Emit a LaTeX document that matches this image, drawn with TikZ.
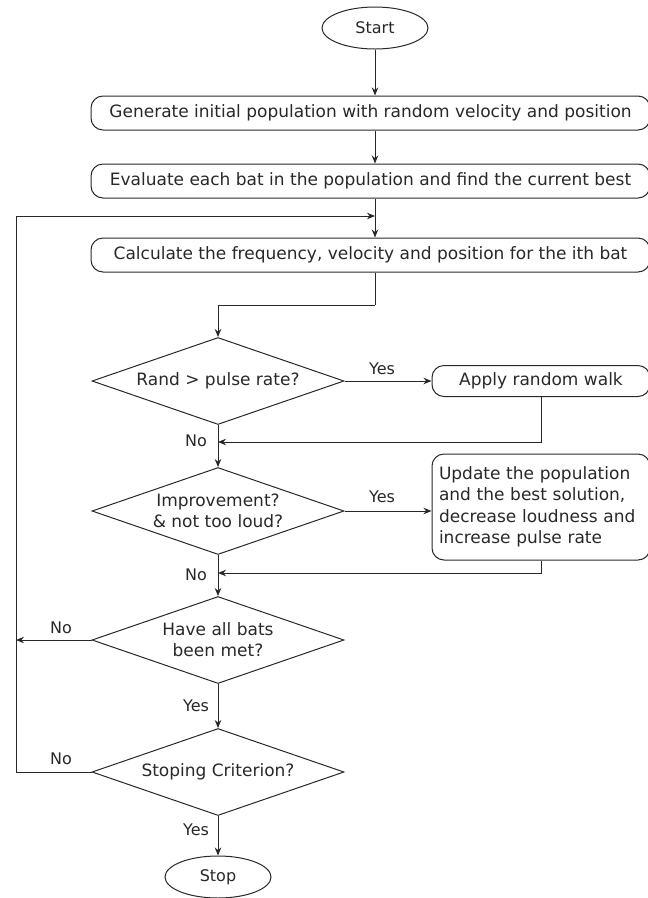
\documentclass[tikz,border=0pt]{standalone}
\usepackage{fontspec}
\setmainfont{DejaVu Sans}
\usetikzlibrary{shapes.geometric, arrows.meta, positioning}
\definecolor{inkgray}{RGB}{40,40,40}

\begin{document}
\begin{tikzpicture}[x=1pt, y=-1pt,
    term/.style={ellipse, draw=inkgray, line width=1pt, minimum width=106pt, minimum height=42pt, inner sep=0pt, text=inkgray, font=\fontsize{16}{19}\selectfont},
    proc/.style={rectangle, rounded corners=12pt, draw=inkgray, line width=1pt, minimum width=559pt, minimum height=34pt, inner sep=0pt, text=inkgray, font=\fontsize{17}{20}\selectfont},
    decision/.style={diamond, aspect=2.9, draw=inkgray, line width=1pt, minimum width=252pt, minimum height=87pt, inner sep=0pt, align=center, text=inkgray, font=\fontsize{17}{21}\selectfont},
    arr/.style={-{Stealth[length=8pt, width=6.5pt]}, line width=1pt, draw=inkgray},
    lbl/.style={text=inkgray, font=\fontsize{16}{19}\selectfont}]

    \useasboundingbox (0,0) rectangle (648,898);

    % Main column
    \node[term] (start) at (375, 28) {Start};
    \node[proc] (gen) at (370.5, 113) {Generate initial population with random velocity and position};
    \node[proc] (eval) at (370.5, 181) {Evaluate each bat in the population and find the current best};
    \node[proc] (calc) at (370.5, 255) {Calculate the frequency, velocity and position for the ith bat};

    % Decisions
    \node[decision] (rand) at (218, 381) {Rand > pulse rate?};
    \node[decision] (improve) at (218, 511) {Improvement?\\\& not too loud?};
    \node[decision] (allmet) at (218, 640) {Have all bats\\been met?};
    \node[decision] (stopc) at (218, 772) {Stoping Criterion?};
    \node[term] (stop) at (218, 877) {Stop};

    % Side boxes
    \node[proc, minimum width=218pt, minimum height=31pt] (walk) at (541, 381) {Apply random walk};
    \node[proc, minimum width=218pt, minimum height=106pt, text width=204pt, align=left,
          font=\fontsize{17}{21.5}\selectfont] (update) at (541, 507)
        {Update the population\\and the best solution,\\decrease loudness and\\increase pulse rate};

    % Junctions
    \coordinate (merge) at (375, 216);
    \coordinate (bend) at (375, 305);
    \coordinate (rail) at (16, 216);
    \coordinate (join1) at (218, 442);
    \coordinate (join2) at (218, 573);

    % Connectors
    \draw[arr] (start) -- (start |- gen.north);
    \draw[arr] (start |- gen.south) -- (start |- eval.north);
    \draw[arr] (start |- eval.south) -- (start |- calc.north);
    \draw[line width=1pt, draw=inkgray] (start |- calc.south) -- (bend);
    \draw[arr] (bend) -| (rand.north);
    \draw[arr] (rand.east) -- (rand.east -| walk.west);
    \draw[arr] (walk.south) |- (join1);
    \draw[arr] (rand.south) -- (improve.north);
    \draw[arr] (improve.east) -- (improve.east -| update.west);
    \draw[arr] (update.south) |- (join2);
    \draw[arr] (improve.south) -- (allmet.north);
    \draw[arr] (allmet.west) -- (allmet.west -| rail);
    \draw[arr] (allmet.south) -- (stopc.north);
    \draw[arr] (stopc.west) -| (rail) -- (merge);
    \draw[arr] (stopc.south) -- (stop.north);

    % Branch labels
    \node[lbl] (y1) at (382, 369) {Yes};
    \node[lbl] (n1) at (196, 441) {No};
    \node[lbl] (y2) at (382, 497) {Yes};
    \node[lbl] (n2) at (196, 575) {No};
    \node[lbl] (n3) at (61, 628) {No};
    \node[lbl] (y3) at (196, 706) {Yes};
    \node[lbl] (n4) at (61, 759) {No};
    \node[lbl] (y4) at (196, 830) {Yes};

\end{tikzpicture}
\end{document}
